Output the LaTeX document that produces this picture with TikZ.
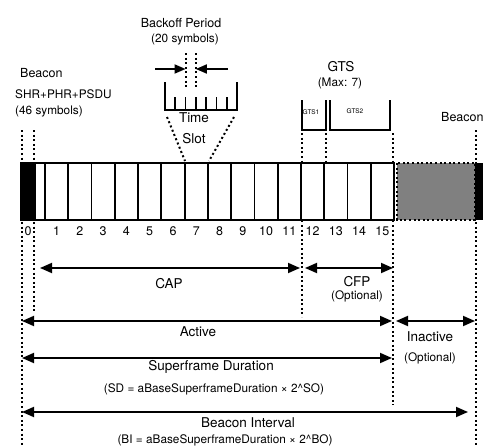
\documentclass[tikz,border=0pt]{standalone}
\usepackage{fontspec}
\setmainfont{TeX Gyre Heros}
\usetikzlibrary{arrows.meta}

\begin{document}
\begin{tikzpicture}[
    x=1pt, y=-1pt,
    every node/.style={inner sep=0pt},
    big/.style={font=\fontsize{13.5}{15}\selectfont},
    mid/.style={font=\fontsize{12.5}{14}\selectfont},
    small/.style={font=\fontsize{11.8}{13}\selectfont},
    tiny/.style={font=\fontsize{6.5}{7}\selectfont},
    bold line/.style={line width=1.8pt},
    dots/.style={line width=2pt, dash pattern=on 2pt off 2.6pt},
    span/.style={line width=1.8pt, <->},
    >={Triangle[length=12pt,width=10pt]}
  ]
  \useasboundingbox (0,0) rectangle (483,447);

  % guide lines
  \coordinate (g0a) at (22,130);  \coordinate (g0b) at (22,447);
  \coordinate (g1a) at (34,130);  \coordinate (g1b) at (34,313);
  \coordinate (g12a) at (302,133); \coordinate (g12b) at (302,317);
  \coordinate (g13a) at (326,133); \coordinate (g13b) at (326,162);
  \coordinate (g16a) at (393,133); \coordinate (g16b) at (393,405);
  \coordinate (gna) at (476,130);  \coordinate (gnb) at (476,447);
  \foreach \g in {0,1,12,13,16,n}
    \draw[dots] (g\g a) -- (g\g b);

  % superframe slots
  \fill (21,163) rectangle (35,220);
  \draw[bold line, fill=white] (35,163) rectangle (45,220);
  \foreach \i in {1,...,15} {
    \draw[bold line, fill=white] ({45+(\i-1)*23.27},163) rectangle ++(23.27,57);
    \node[mid] (n\i) at ({45+(\i-0.5)*23.27},231) {\i};
  }
  \node[mid] (n0) at (28,231) {0};
  \draw[bold line] (21,163) rectangle (394,220);
  \draw[dots, fill=gray] (397,163) rectangle (475,220);
  \fill (475,163) rectangle (490,220);

  % beacon labels
  \node[mid, anchor=west] (bcn) at (20,73) {Beacon};
  \node[small, anchor=west] (shr) at (15,94) {SHR+PHR+PSDU};
  \node[small, anchor=west] (sym) at (15,111) {(46 symbols)};
  \node[mid, anchor=west] (bcn2) at (441,117) {Beacon};

  % backoff period / time slot
  \node[mid] (bop) at (181,23) {Backoff Period};
  \node[small] (bos) at (185,39) {(20 symbols)};
  \draw[bold line] (165,82) -- (165,110) -- (237,110) -- (237,82);
  \foreach \k in {1,...,6}
    \draw[bold line] ({165+\k*72/7},97) -- ({165+\k*72/7},110);
  \coordinate (bpl) at ({165+2*72/7},53);
  \coordinate (bpr) at ({165+3*72/7},53);
  \draw[dots] (bpl) -- ++(0,34);
  \draw[dots] (bpr) -- ++(0,34);
  \coordinate (al) at (155,69); \coordinate (ar) at (228,69);
  \draw[bold line, ->, >={Triangle[length=11pt,width=9pt]}] (al) -- (al -| bpl);
  \draw[bold line, ->, >={Triangle[length=11pt,width=9pt]}] (ar) -- (ar -| bpr);
  \node[big] (time) at (194,118) {Time};
  \node[big] (slot) at (194,139) {Slot};
  \draw[dots] (167,117) -- (185,161);
  \draw[dots] (234,117) -- (209,161);

  % GTS
  \node[big] (gts) at (341,67) {GTS};
  \node[small] (gmax) at (340,83) {(Max: 7)};
  \draw[bold line] (302,100) -- (302,130) -- (326,130) -- (326,100);
  \draw[bold line] (330,100) -- (330,130) -- (390,130) -- (390,100);
  \node[tiny] (gts1) at (311,112) {GTS1};
  \node[tiny] (gts2) at (355,111) {GTS2};

  % periods
  \coordinate (capl) at (40,268);  \coordinate (capr) at (300,268);
  \coordinate (cfpl) at (305,268); \coordinate (cfpr) at (393,268);
  \coordinate (actl) at (22,321);  \coordinate (actr) at (392,321);
  \coordinate (inal) at (396,321); \coordinate (inar) at (475,321);
  \coordinate (sdl) at (22,358);   \coordinate (sdr) at (392,358);
  \coordinate (bil) at (22,412);   \coordinate (bir) at (468,412);
  \draw[span] (capl) -- (capr);
  \draw[span] (cfpl) -- (cfpr);
  \draw[span] (actl) -- (actr);
  \draw[span] (inal) -- (inar);
  \draw[span] (sdl) -- (sdr);
  \draw[span] (bil) -- (bir);
  \node[big] (cap) at (169,284) {CAP};
  \node[big] (cfp) at (357,282) {CFP};
  \node[small] (cfpo) at (357,296) {(Optional)};
  \node[big] (act) at (198,332) {Active};
  \node[big] (ina) at (430,337) {Inactive};
  \node[small] (inao) at (430,358) {(Optional)};
  \node[big] (sd) at (211,367) {Superframe Duration};
  \node[small] (sdf) at (214,389) {(SD = aBaseSuperframeDuration × 2\^{}SO)};
  \node[big] (bi) at (248,423) {Beacon Interval};
  \node[small] (bif) at (225,440) {(BI = aBaseSuperframeDuration × 2\^{}BO)};
\end{tikzpicture}
\end{document}
